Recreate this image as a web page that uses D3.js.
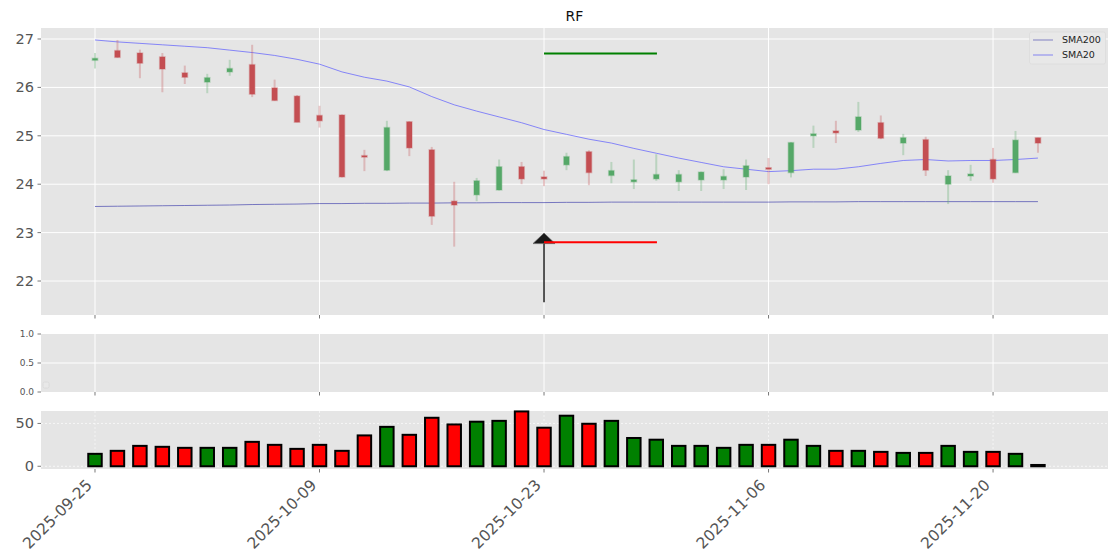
<!DOCTYPE html>
<html><head><meta charset="utf-8">
<script src="https://cdn.jsdelivr.net/npm/d3@7"></script>
<style>body{margin:0;background:#fff}svg{display:block}text{font-family:"DejaVu Sans",sans-serif}</style>
</head><body><svg id="c" width="1120" height="560"></svg>
<script>
const dates = ["2025-09-25","2025-09-26","2025-09-29","2025-09-30","2025-10-01","2025-10-02","2025-10-03","2025-10-06","2025-10-07","2025-10-08","2025-10-09","2025-10-10","2025-10-13","2025-10-14","2025-10-15","2025-10-16","2025-10-17","2025-10-20","2025-10-21","2025-10-22","2025-10-23","2025-10-24","2025-10-27","2025-10-28","2025-10-29","2025-10-30","2025-10-31","2025-11-03","2025-11-04","2025-11-05","2025-11-06","2025-11-07","2025-11-10","2025-11-11","2025-11-12","2025-11-13","2025-11-14","2025-11-17","2025-11-18","2025-11-19","2025-11-20","2025-11-21","2025-11-24"];
const opens  = [26.56,26.76,26.71,26.63,26.30,26.11,26.32,26.47,25.99,25.82,25.42,25.43,24.59,24.29,25.29,24.71,23.65,23.78,23.88,24.36,24.15,24.40,24.67,24.18,24.05,24.11,24.05,24.09,24.09,24.15,24.34,24.24,25.00,25.10,25.12,25.27,24.85,24.92,24.00,24.17,24.51,24.24,24.96];
const closes = [26.60,26.62,26.50,26.38,26.21,26.20,26.39,25.86,25.73,25.28,25.31,24.15,24.56,25.17,24.75,23.34,23.57,24.07,24.36,24.11,24.11,24.57,24.24,24.28,24.09,24.20,24.20,24.25,24.16,24.38,24.31,24.86,25.04,25.06,25.39,24.95,24.96,24.29,24.17,24.21,24.11,24.91,24.85];
const highs  = [26.71,26.98,26.78,26.71,26.45,26.28,26.57,26.88,26.16,25.84,25.62,25.44,24.71,25.31,25.30,24.77,24.05,24.13,24.51,24.46,24.28,24.65,24.70,24.46,24.51,24.62,24.29,24.26,24.31,24.51,24.54,24.87,25.21,25.31,25.70,25.42,25.04,24.98,24.29,24.40,24.75,25.10,24.96];
const lows   = [26.39,26.61,26.19,25.90,26.07,25.88,26.24,25.80,25.72,25.28,25.17,24.14,24.27,24.27,24.58,23.16,22.71,23.65,23.87,24.00,23.96,24.29,23.98,24.02,23.90,24.07,23.86,23.86,23.90,23.88,24.00,24.14,24.75,24.85,25.08,24.93,24.60,24.17,23.59,24.07,24.03,24.23,24.65];
const volumes = [14.5,18,23.8,22.7,21.5,21.5,21.5,28.5,25,20.3,25,18,36,46,36.7,56.6,48.8,52,53,64,45,59,49.6,53,33,31,23.8,23.8,21.5,25,25,31,23.8,18,18,16.8,15.6,15.6,23.8,16.8,16.8,14.5,1.5];
const sma20  = [26.98,26.94,26.91,26.88,26.85,26.82,26.77,26.72,26.66,26.58,26.48,26.32,26.21,26.13,26.01,25.81,25.64,25.51,25.39,25.27,25.13,25.03,24.93,24.85,24.74,24.64,24.54,24.45,24.36,24.31,24.26,24.28,24.31,24.31,24.36,24.43,24.49,24.51,24.48,24.49,24.49,24.51,24.54];
const sma200 = [23.54,23.545,23.55,23.555,23.56,23.565,23.57,23.58,23.585,23.59,23.60,23.60,23.605,23.605,23.61,23.61,23.615,23.615,23.62,23.62,23.62,23.625,23.625,23.63,23.63,23.63,23.63,23.63,23.63,23.63,23.63,23.635,23.635,23.635,23.64,23.64,23.64,23.64,23.64,23.64,23.64,23.64,23.64];
const tickIdx = [0,10,20,30,40];
const priceTicks = [22,23,24,25,26,27];
const midTicks = [0.0,0.5,1.0];
const volTicks = [0,50];
const target = 26.70, stopLevel = 22.80;
const entryIdx = 20, levelEndIdx = 25.03;
const arrowFrom = 21.56, arrowTo = 22.99;
const title = "RF";
const legendItems = ["SMA200","SMA20"];

const svg = d3.select("#c");
const L = 41, R = 1108;
const x = d3.scaleLinear().domain([-2.405, 45.12]).range([L, R]);
const step = x(1) - x(0);
const yP = d3.scaleLinear().domain([21.298, 27.227]).range([315, 28]);
const yM = d3.scaleLinear().domain([0, 1]).range([392, 334]);
const yV = d3.scaleLinear().domain([-3.2, 64.5]).range([469, 411]);
const BG = "#E5E5E5", TC = "#555";
const RED = "#c44e52", GREEN = "#55a868";

function panel(y0, y1) {
  svg.append("rect").attr("x", L).attr("y", y0).attr("width", R - L).attr("height", y1 - y0).attr("fill", BG);
}
function xTicks(g, ybottom) {
  tickIdx.forEach(i => g.append("line").attr("x1", x(i)).attr("x2", x(i)).attr("y1", ybottom).attr("y2", ybottom + 3.5).attr("stroke", TC).attr("stroke-width", 0.8));
}
function vGrid(g, y0, y1, dash) {
  tickIdx.forEach(i => g.append("line").attr("x1", x(i)).attr("x2", x(i)).attr("y1", y0).attr("y2", y1).attr("stroke", "#fff").attr("stroke-width", 1).attr("stroke-dasharray", dash || null).attr("opacity", dash ? 0.6 : 1));
}
function yAxis(g, scale, ticks, fmt, fs) {
  ticks.forEach(t => {
    g.append("line").attr("x1", L - 3.5).attr("x2", L).attr("y1", scale(t)).attr("y2", scale(t)).attr("stroke", TC).attr("stroke-width", 0.8);
    g.append("text").attr("x", L - 7).attr("y", scale(t)).attr("dy", "0.35em").attr("text-anchor", "end").attr("font-size", fs).attr("fill", TC).text(fmt(t));
  });
}

// main panel
panel(28, 315);
const gm = svg.append("g");
priceTicks.forEach(t => gm.append("line").attr("x1", L).attr("x2", R).attr("y1", yP(t)).attr("y2", yP(t)).attr("stroke", "#fff").attr("stroke-width", 1));
vGrid(gm, 28, 315);
yAxis(gm, yP, priceTicks, d3.format("d"), "14.5px");
xTicks(gm, 315);

// SMA lines
const line = arr => d3.line().x((d, i) => x(i)).y(d => yP(d))(arr);
gm.append("path").attr("d", line(sma200)).attr("fill", "none").attr("stroke", "#4a4ab0").attr("stroke-opacity", 0.8).attr("stroke-width", 0.9);
gm.append("path").attr("d", line(sma20)).attr("fill", "none").attr("stroke", "#5555ff").attr("stroke-opacity", 0.75).attr("stroke-width", 0.9);

// candles
const cg = gm.append("g");
dates.forEach((d, i) => {
  const up = closes[i] >= opens[i];
  const col = up ? GREEN : RED;
  cg.append("line").attr("x1", x(i)).attr("x2", x(i)).attr("y1", yP(highs[i])).attr("y2", yP(lows[i])).attr("stroke", col).attr("stroke-opacity", 0.3).attr("stroke-width", 2);
  const top = yP(Math.max(opens[i], closes[i])), bot = yP(Math.min(opens[i], closes[i]));
  const bw = step * 0.24;
  cg.append("rect").attr("x", x(i) - bw / 2).attr("y", top).attr("width", bw).attr("height", Math.max(bot - top, 1.2)).attr("fill", col).attr("stroke", col).attr("stroke-opacity", 0.3).attr("stroke-width", 1.5);
});

// target / stop lines
gm.append("line").attr("x1", x(entryIdx)).attr("x2", x(levelEndIdx)).attr("y1", yP(target)).attr("y2", yP(target)).attr("stroke", "green").attr("stroke-width", 2);
// arrow
gm.append("line").attr("x1", x(entryIdx)).attr("x2", x(entryIdx)).attr("y1", yP(arrowFrom)).attr("y2", yP(arrowTo) + 10).attr("stroke", "#222").attr("stroke-width", 1.5);
const ax = x(entryIdx), ay = yP(arrowTo);
gm.append("path").attr("d", `M${ax},${ay} L${ax + 11},${ay + 10.5} L${ax - 11},${ay + 10.5} Z`).attr("fill", "#1a1a1a").attr("stroke", "#666").attr("stroke-width", 0.8);
gm.append("line").attr("x1", x(entryIdx)).attr("x2", x(levelEndIdx)).attr("y1", yP(stopLevel)).attr("y2", yP(stopLevel)).attr("stroke", "red").attr("stroke-width", 2);

// legend
const lg = gm.append("g");
lg.append("rect").attr("x", 1029.5).attr("y", 32).attr("width", 76).attr("height", 32).attr("rx", 2).attr("fill", "#e8e8e8").attr("stroke", "#dcdcdc").attr("stroke-width", 0.8);
const legCols = ["#a3a3cf", "#a6a6ee"];
legendItems.forEach((t, k) => {
  const yy = 40 + k * 15;
  lg.append("line").attr("x1", 1033).attr("x2", 1053).attr("y1", yy).attr("y2", yy).attr("stroke", legCols[k]).attr("stroke-width", 1.5);
  lg.append("text").attr("x", 1062).attr("y", yy).attr("dy", "0.36em").attr("font-size", "9.5px").attr("fill", "#222").text(t);
});

// title
svg.append("text").attr("x", (L + R) / 2).attr("y", 21).attr("text-anchor", "middle").attr("font-size", "14px").attr("fill", "#111").text(title);

// middle panel
panel(334, 392);
const g2 = svg.append("g");
g2.append("line").attr("x1", L).attr("x2", R).attr("y1", yM(0.5)).attr("y2", yM(0.5)).attr("stroke", "#fff").attr("stroke-width", 1);
vGrid(g2, 334, 392);
yAxis(g2, yM, midTicks, d3.format(".1f"), "9px");
xTicks(g2, 392);
g2.append("rect").attr("x", 43).attr("y", 382).attr("width", 6).attr("height", 6).attr("rx", 1.5).attr("fill", "#e8e8e8").attr("stroke", "#d8d8d8").attr("stroke-width", 0.8);

// volume panel
panel(411, 469);
const g3 = svg.append("g");
volTicks.forEach(t => g3.append("line").attr("x1", L).attr("x2", R).attr("y1", yV(t)).attr("y2", yV(t)).attr("stroke", "#fff").attr("stroke-width", 1).attr("stroke-dasharray", "2,2").attr("opacity", 0.7));
vGrid(g3, 411, 469, "2,2");
yAxis(g3, yV, volTicks, d3.format("d"), "14.5px");
xTicks(g3, 469);
dates.forEach((d, i) => {
  const up = closes[i] >= opens[i];
  const w = step * 0.6;
  g3.append("rect").attr("x", x(i) - w / 2).attr("y", yV(volumes[i])).attr("width", w).attr("height", yV(0) - yV(volumes[i])).attr("fill", up ? "green" : "red").attr("stroke", "#000").attr("stroke-width", 2);
});

// x tick labels
tickIdx.forEach(i => {
  svg.append("text").attr("transform", `translate(${x(i) - 2},${486}) rotate(-45)`).attr("text-anchor", "end").attr("font-size", "15.5px").attr("fill", TC).text(dates[i]);
});
</script></body></html>
